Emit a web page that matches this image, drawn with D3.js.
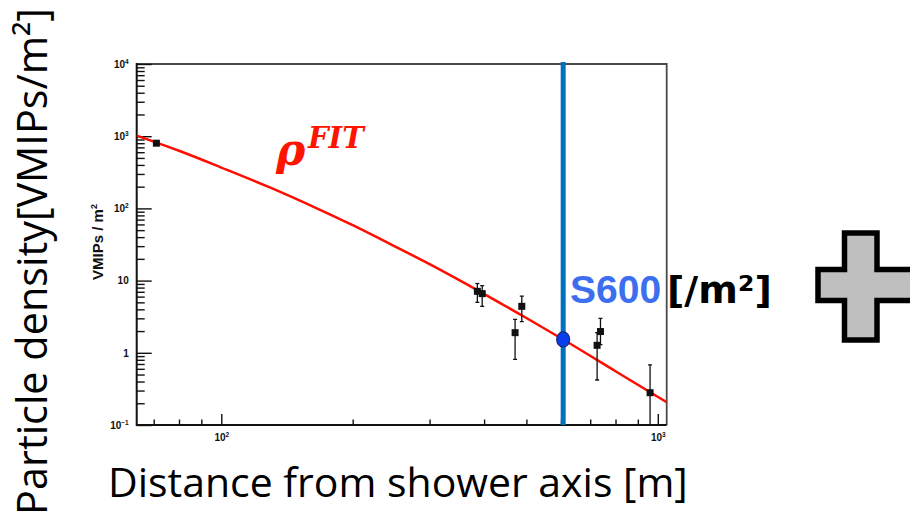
<!DOCTYPE html>
<html>
<head>
    <meta charset="utf-8">
    <title>rho fit</title>
    <style>
        body { margin: 0; background: #fff; overflow: hidden; }
    </style>
    <script src="https://d3js.org/d3.v7.min.js"></script>
</head>
<body>
<script>
    // ---- data ----
    const pointR = [71, 386, 396, 488, 471, 726, 739, 960];
    const pointRho = [800, 7.1, 6.6, 4.4, 1.9, 1.27, 1.97, 0.28];
    const errLow = [800, 5.0, 4.4, 2.7, 0.81, 0.42, 1.3, 0.05];
    const errHigh = [800, 9.1, 8.5, 6.1, 2.9, 1.9, 3.0, 0.68];

    // fitted curve
    const fitR = [64, 80, 100, 130, 165, 200, 244, 300, 392, 500, 607, 800, 1048];
    const fitRho = [1020, 628, 368, 192, 101, 58.5, 32, 16.9, 7.0, 3.03, 1.53, 0.556, 0.207];

    const s600R = 607, s600Rho = 1.53;

    const yMajor = [0.1, 1, 10, 100, 1000, 10000];
    const yLabels = [["10", "-1"], ["1", ""], ["10", ""], ["10", "2"], ["10", "3"], ["10", "4"]];
    const xMajor = [100, 1000];
    const xLabels = [["10", "2"], ["10", "3"]];
    const xMinor = [70, 80, 90, 200, 300, 400, 500, 600, 700, 800, 900];

    const W = 910, H = 523;
    const L = 136.7, R = 666.7, T = 64, B = 425;

    const svg = d3.select("body").append("svg")
        .attr("width", W).attr("height", H)
        .style("background", "#fff");

    const x = d3.scaleLog().domain([64, 1048]).range([L, R]);
    const y = d3.scaleLog().domain([0.1, 10000]).range([B, T]);

    let yMinor = [];
    for (let d = 0.1; d < 10000; d *= 10)
        for (let k = 2; k <= 9; k++) yMinor.push(d * k);

    svg.append("defs").append("clipPath").attr("id", "plot")
        .append("rect").attr("x", L).attr("y", T).attr("width", R - L).attr("height", B - T);

    // frame
    svg.append("path")
        .attr("d", `M${L},${T}H${R}V${B}`)
        .attr("fill", "none").attr("stroke", "#4a4a4a").attr("stroke-width", 1.8);

    // axes (ticks point inward like root)
    const axStyle = g => {
        g.select(".domain").remove();
        g.selectAll("line").attr("stroke", "#111").attr("stroke-width", 1.4);
    };
    svg.append("g").attr("transform", `translate(${L},0)`)
        .call(d3.axisLeft(y).tickValues(yMinor).tickSize(-8).tickFormat(""))
        .call(axStyle);
    const yAx = svg.append("g").attr("transform", `translate(${L},0)`)
        .call(d3.axisLeft(y).tickValues(yMajor).tickSize(-15).tickPadding(8).tickFormat(""))
        .call(axStyle);
    svg.append("g").attr("transform", `translate(0,${B})`)
        .call(d3.axisBottom(x).tickValues(xMinor).tickSize(-5.5).tickFormat(""))
        .call(axStyle);
    const xAx = svg.append("g").attr("transform", `translate(0,${B})`)
        .call(d3.axisBottom(x).tickValues(xMajor).tickSize(-11).tickPadding(9).tickFormat(""))
        .call(axStyle);

    function supLabel(sel, labs) {
        sel.selectAll("text").each(function (d, i) {
            const t = d3.select(this)
                .attr("font-family", "Liberation Sans, Arial, sans-serif")
                .attr("font-weight", "bold")
                .attr("font-size", 10)
                .attr("fill", "#111");
            t.text(labs[i][0]);
            if (labs[i][1]) t.append("tspan").attr("font-size", 6.5).attr("dy", -4).text(labs[i][1].replace("-", "\u2212"));
        });
    }
    supLabel(yAx, yLabels);
    supLabel(xAx, xLabels);

    // axis lines
    svg.append("path")
        .attr("d", `M${L},${T - 1}V${B}H${R}`)
        .attr("fill", "none").attr("stroke", "#111").attr("stroke-width", 2);

    // root y title
    svg.append("text")
        .attr("transform", "translate(103,242) rotate(-90)")
        .attr("text-anchor", "middle")
        .attr("font-family", "Liberation Sans, Arial, sans-serif")
        .attr("font-weight", "bold").attr("font-size", 15).attr("fill", "#111")
        .text("VMIPs / m").append("tspan").attr("font-size", 9).attr("dy", -6).text("2");

    const plot = svg.append("g").attr("clip-path", "url(#plot)");

    // fit curve
    plot.append("path")
        .datum(fitR.map((r, i) => [r, fitRho[i]]))
        .attr("d", d3.line().x(d => x(d[0])).y(d => y(d[1])).curve(d3.curveMonotoneX))
        .attr("fill", "none").attr("stroke", "#ff0d00").attr("stroke-width", 2.5);

    // error bars + squares
    const pts = pointR.map((r, i) => ({r, v: pointRho[i], lo: errLow[i], hi: errHigh[i]}));
    const pg = plot.selectAll(".pt").data(pts).enter().append("g").attr("class", "pt");
    pg.append("line")
        .attr("x1", d => x(d.r)).attr("x2", d => x(d.r))
        .attr("y1", d => y(d.lo)).attr("y2", d => y(d.hi))
        .attr("stroke", "#111").attr("stroke-width", 1.3);
    pg.filter(d => d.hi > d.v).selectAll(".cap")
        .data(d => [[d.r, d.lo], [d.r, d.hi]]).enter().append("line")
        .attr("x1", d => x(d[0]) - 2).attr("x2", d => x(d[0]) + 2)
        .attr("y1", d => y(d[1])).attr("y2", d => y(d[1]))
        .attr("stroke", "#111").attr("stroke-width", 1.3);
    pg.append("rect")
        .attr("x", d => x(d.r) - 3.5).attr("y", d => y(d.v) - 3.5)
        .attr("width", 7).attr("height", 7).attr("fill", "#111");

    // S600 marker
    svg.append("line")
        .attr("x1", x(s600R)).attr("x2", x(s600R))
        .attr("y1", T - 2).attr("y2", B)
        .attr("stroke", "#0070c0").attr("stroke-width", 5);
    svg.append("ellipse")
        .attr("cx", x(s600R)).attr("cy", y(s600Rho))
        .attr("rx", 6.5).attr("ry", 7.5)
        .attr("fill", "#0a3cf0").attr("stroke", "#142a6e").attr("stroke-width", 1.2);

    // rho^FIT
    const rho = svg.append("text")
        .attr("x", 276).attr("y", 165)
        .attr("font-family", "DejaVu Serif, serif")
        .attr("font-weight", "bold").attr("font-style", "italic")
        .attr("fill", "#ff1400");
    rho.append("tspan").attr("font-size", 44).text("\u03c1");
    rho.append("tspan").attr("font-size", 29).attr("x", 308).attr("y", 148).text("FIT");

    svg.append("text")
        .attr("x", 570).attr("y", 303)
        .attr("font-family", "Liberation Sans, Arial, sans-serif")
        .attr("font-weight", "bold").attr("font-size", 39)
        .attr("fill", "#3c6ef0").text("S600");
    svg.append("text")
        .attr("x", 667).attr("y", 303)
        .attr("font-family", "DejaVu Sans, sans-serif")
        .attr("font-weight", "bold").attr("font-size", 38)
        .attr("fill", "#000").text("[/m\u00b2]");

    // big slide labels
    function fitWidth(t, target) {
        const w = t.node().getComputedTextLength();
        t.attr("font-size", 40 * target / w);
    }
    const xl = svg.append("text")
        .attr("x", 108).attr("y", 497)
        .attr("font-family", "Open Sans, Noto Sans, sans-serif")
        .attr("font-size", 40).attr("fill", "#000")
        .text("Distance from shower axis [m]");
    fitWidth(xl, 580);
    const yl = svg.append("text")
        .attr("transform", "translate(47,261.5) rotate(-90)")
        .attr("text-anchor", "middle")
        .attr("font-family", "Open Sans, Noto Sans, sans-serif")
        .attr("font-size", 40).attr("fill", "#000")
        .text("Particle density[VMIPs/m\u00b2]");
    fitWidth(yl, 507);

    // plus sign on the right
    svg.append("path")
        .attr("d", "M844.5,233H877V269.5H920V300.5H877V340H844.5V300.5H818V269.5H844.5Z")
        .attr("fill", "#bfbfbf").attr("stroke", "#000").attr("stroke-width", 5.5);
</script>
</body>
</html>
